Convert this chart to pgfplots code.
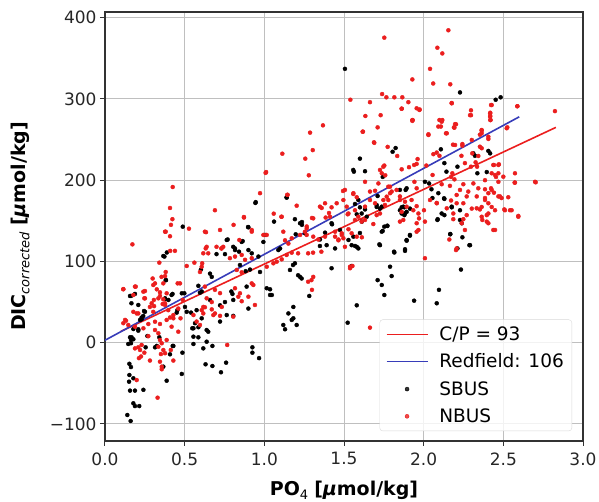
\documentclass[border=0pt]{standalone}
\usepackage{pgfplots}
\pgfplotsset{compat=1.18}
\usepackage{fontspec}
\setmainfont{DejaVu Sans}
\definecolor{myred}{RGB}{235,30,30}
\definecolor{myblue}{RGB}{55,60,185}
\definecolor{frame}{RGB}{50,50,50}
\pgfplotsset{
  redleg/.style={legend image code/.code={\draw[myred, line width=1.6pt] (0pt,0pt) -- (41pt,0pt); \path (50pt,0pt);}},
  blueleg/.style={legend image code/.code={\draw[myblue, line width=1.6pt] (0pt,0pt) -- (41pt,0pt); \path (50pt,0pt);}},
  blackdot/.style={legend image code/.code={\fill[black] (20.5pt,0pt) circle (2pt); \path (0pt,0pt) (50pt,0pt);}},
  reddot/.style={legend image code/.code={\fill[myred] (20.5pt,0pt) circle (2pt); \path (0pt,0pt) (50pt,0pt);}},
}
\begin{document}
\begin{tikzpicture}
\begin{axis}[
  name=ax,
  scale only axis, width=478pt, height=429pt,
  xmin=0, xmax=3, ymin=-121, ymax=407,
  xtick={0,0.5,1,1.5,2,2.5,3},
  xticklabels={0.0,0.5,1.0,1.5,2.0,2.5,3.0},
  ytick={-100,0,100,200,300,400},
  yticklabels={−100,0,100,200,300,400},
  tick label style={font=\fontsize{17}{19}\selectfont, text=black!85},
  xticklabel style={yshift=-3pt},
  tick align=outside, xtick pos=bottom, ytick pos=left,
  major tick length=5pt,
  every tick/.style={frame, line width=1pt},
  grid=major, grid style={gray!50, line width=1pt},
  axis line style={frame, line width=1.3pt},
  xlabel={\textbf{PO}\raisebox{-0.35ex}{\fontsize{13}{13}\selectfont 4} \textbf{[\textit{μ}mol/kg]}},
  ylabel={\textbf{DIC}\raisebox{-0.35ex}{\fontsize{13}{13}\selectfont\itshape corrected} \textbf{[\textit{μ}mol/kg]}},
  label style={font=\fontsize{19}{20}\selectfont},
  xlabel style={yshift=-9pt},
  ylabel style={yshift=13pt},
  legend cell align=left,
  legend style={at={(0.977,0.023)}, anchor=south east, draw=gray!30, rounded corners=3pt,
    fill=white, fill opacity=0.8, text opacity=1, font=\fontsize{18.5}{20}\selectfont,
    row sep=8pt, inner xsep=6pt, inner ysep=5pt},
]
\addplot[only marks, mark=*, mark size=2pt, black, forget plot] coordinates {
(2.228,308) (2.452,299) (2.483,302) (1.506,337)
(0.946,173) (1.140,178.5) (0.898,142.4) (1.061,149) (1.192,152) (1.236,148.5) (1.236,145) (1.425,145.7) (0.488,142.8)
(1.824,239.6) (1.805,235) (1.600,226.5) (1.558,212.6) (1.562,210.5) (1.632,211) (1.743,204) (2.108,238) (2.312,233) (2.322,230) (2.406,236) (2.130,221) (2.212,216.6) (2.143,210.5) (2.337,208.5) (2.396,210) (2.008,198) (2.034,196) (2.049,188.8) (1.851,188) (1.887,188) (1.711,180.5) (2.055,178) (2.130,177) (1.862,166.6) (1.879,166.6) (1.893,161) (1.914,165) (1.879,157) (2.176,166.6) (2.228,163) (2.088,152) (2.130,157) (1.753,142.8) (1.772,143.6) (1.632,164) (1.600,166.6) (1.580,158) (1.612,149) (1.705,167) (1.726,165)
(0.373,106) (0.388,111) (0.383,77) (0.157,57.5) (0.424,60) (0.377,53.8) (0.251,38) (0.230,31) (0.220,28) (0.178,16.8) (0.209,14.8) (0.167,6.6) (0.454,40) (0.513,38) (0.502,44) (0.540,37) (0.565,24) (0.548,17.7) (0.586,19) (0.638,15.6) (0.555,7.4) (0.586,6.6) (0.602,90) (0.659,85) (0.670,81) (0.607,63) (0.586,70) (0.659,52.6) (0.722,46) (0.753,50) (0.805,33) (0.700,109) (0.753,109) (0.770,127) (0.816,114) (0.841,112) (0.805,118) (0.858,124) (0.900,114) (0.921,110) (0.963,106) (0.847,95.6) (0.883,88) (0.910,90) (0.793,63) (0.800,60) (0.973,87) (0.994,124) (1.004,132.6) (1.088,114) (1.099,116) (1.161,89.5) (1.180,95.6) (1.192,97.7) (1.349,119) (1.391,120) (1.444,116) (1.036,65.7) (1.047,58.7) (1.212,83) (1.234,79) (1.422,91.6) (1.182,44) (1.182,30) (1.203,21.8) (1.130,16.5)
(1.600,135) (1.737,136.6) (1.569,119) (1.722,121) (1.816,111) (1.893,125.5) (1.914,131.7) (1.883,115) (1.789,93.5) (1.799,82) (1.711,77) (1.737,71) (1.753,58.7) (1.580,46) (1.940,51.7) (2.167,133.8) (2.243,129.7) (2.287,120) (2.212,116) (2.234,90) (2.096,65) (2.082,48.5) (1.523,24.6)
(1.282,57.5) (1.548,94.4) (1.814,112) (1.883,113)
(0.146,-1.6) (0.163,3.3) (0.255,-5.7) (0.314,-5.7) (0.366,-29.5) (0.408,-14.3) (0.429,-4) (0.486,-12.3) (0.482,-38.5) (0.387,-46.8) (0.153,-26) (0.163,-30) (0.153,-39.8) (0.151,-48) (0.178,-43.8) (0.157,-59) (0.188,-59) (0.241,-58) (0.178,-74.6) (0.188,-78) (0.215,-78) (0.140,-89) (0.161,-96.4) (0.555,-1.6) (0.617,-7) (0.638,1.2) (0.674,-4) (0.631,-26.6) (0.674,-28.7) (0.728,-36.4) (0.760,-24.6) (0.925,-5.7) (0.925,-12.3) (0.967,-19)
(0.163,57.5) (0.188,60) (0.166,48.5) (0.209,46.4) (0.245,39) (0.240,32.9) (0.230,28.8) (0.209,16.5) (0.178,4.2) (0.157,6.6) (0.163,-0.7) (0.266,8.2) (0.325,-4) (0.341,6.6) (0.366,106.7) (0.381,77) (0.377,54.6) (0.398,52.6) (0.418,58.7) (0.482,60.8) (0.450,37) (0.425,-4) (0.498,60.8) (0.596,61.5) (0.575,40) (0.607,30) (0.555,17.7) (0.648,13.5) (0.722,26) (0.764,34) (0.805,52.6) (0.889,69) (0.900,42) (1.015,67) (1.036,58.7) (1.119,21.8) (1.172,28) (1.151,36) (1.224,81)
(0.764,126.4) (0.816,116) (0.864,125) (0.944,172) (0.900,142) (1.140,179) (1.197,133.4)
(2.291,120) (2.167,133.4) (2.228,151) (2.239,147) (2.086,151) (2.113,159) (2.128,177.7) (2.176,167.4) (2.092,184) (1.893,126.4) (1.914,132.6) (1.726,120) (1.772,144) (1.743,137.5) (1.893,190) (1.872,167.4) (1.883,159) (1.862,159) (1.851,163) (1.705,169.5) (1.737,167.4) (1.590,175.6) (1.569,170.7) (1.611,159) (1.643,155) (1.422,147) (1.475,138.7) (1.528,126.4) (1.559,130.5) (1.548,120) (1.580,118) (1.590,116) (1.224,147) (1.255,134.6) (1.349,127) (1.381,135.4)
(2.417,233)
};
\addplot[only marks, mark=*, mark size=2pt, myred, forget plot] coordinates {
(1.753,375.4) (2.155,384.5) (2.086,363) (2.117,356) (2.04,337) (1.929,324) (2.06,319) (2.167,318) (1.739,306) (1.766,302) (1.816,302) (1.866,302) (1.904,296) (1.540,299) (1.663,296) (1.862,288) (1.975,287) (2.176,295) (2.423,292.5) (2.588,291) (2.824,285) (1.634,279) (1.730,280) (2.297,286) (2.297,280) (2.418,283) (2.418,279) (2.418,274) (1.929,274) (2.117,274)
(1.368,267.5) (1.287,258.5) (1.304,237) (1.113,232.6) (1.257,226.5) (1.279,206) (1.011,210) (0.425,191.6) (0.973,184) (1.146,182) (1.203,168.6) (0.408,165.8) (0.423,152) (0.414,145) (0.690,163) (0.872,154.7) (0.807,145) (1.059,158.8) (1.107,155) (1.299,153.5) (1.360,165.8) (1.422,166.6) (1.385,154) (1.406,159.6) (1.494,186.7) (0.527,140.3) (1.266,143)
(1.711,265) (1.619,259.7) (1.931,274) (2.099,274) (2.108,266) (2.030,256.5) (2.140,257.7) (2.197,269) (2.19,265) (1.690,246) (1.774,241) (1.834,229.8) (1.726,212.6) (1.753,218) (1.759,206) (1.908,216) (1.862,213.4) (1.94,218.7) (1.962,226) (1.956,220) (2.017,218) (2.061,232) (2.082,234) (2.099,230) (2.184,243.7) (2.243,244.5) (2.237,230) (2.353,256) (2.364,261) (2.406,250.7) (2.525,265) (2.259,221) (2.297,216.6) (2.326,222) (2.335,216.6) (2.441,218.7) (2.469,218.7) (2.469,208.5) (2.454,204) (2.573,208.5) (2.571,197) (2.703,197.4) (2.18,208.5) (2.172,204) (2.193,201) (2.056,206.4) (2.385,200) (1.942,198) (2.312,196) (2.249,195) (2.113,195) (2.165,193) (2.228,188) (2.280,186) (2.343,190) (2.385,188.8) (2.423,190) (2.441,184.6) (1.956,190) (1.778,192) (1.799,186) (1.663,186) (1.695,187) (1.506,188) (1.558,183) (1.580,179) (2.082,172) (2.172,175) (2.207,171.6) (2.333,180) (2.385,178) (2.406,171.6) (2.427,167) (2.469,180) (2.489,178) (2.531,179) (2.506,164) (2.552,163) (2.594,156) (2.302,165) (2.353,164) (2.249,152) (2.239,147) (2.368,151) (2.406,147) (2.186,152) (2.002,163) (1.971,153) (1.684,146) (1.590,155) (1.632,151) (1.569,163) (1.523,158) (1.757,169.5) (1.778,175.6) (1.851,175.6) (1.924,175.6) (1.956,168)
(0.172,121) (0.377,136.6) (0.408,131) (0.409,113) (0.439,113) (0.341,98.5) (0.381,87) (0.377,82) (0.299,79) (0.314,73) (0.193,69) (0.115,66) (0.178,58.7) (0.251,63.6) (0.247,54.6) (0.345,62) (0.335,54.6) (0.366,53.4) (0.377,46.4) (0.456,73) (0.293,48.5) (0.308,45) (0.199,36) (0.126,28) (0.115,24) (0.146,21.8) (0.314,25.8) (0.345,23) (0.387,28) (0.397,40) (0.429,34) (0.460,42) (0.408,31) (0.314,15.6) (0.335,11.6) (0.272,8) (0.607,40) (0.617,36) (0.670,41) (0.690,36) (0.722,33) (0.513,94.4) (0.561,98.5) (0.607,93.5) (0.596,87) (0.610,97.7) (0.627,69) (0.690,65) (0.722,61) (0.627,43.6) (0.670,50) (0.617,110) (0.648,110) (0.632,116) (0.700,118) (0.731,116) (0.742,118) (0.627,136.6) (0.722,138.7) (0.784,104) (0.816,106) (0.858,108) (0.879,102) (0.921,104) (0.921,138.7) (0.827,89.5) (0.858,86.6) (0.921,73) (0.931,71) (0.816,67) (0.858,51) (0.837,56.6) (0.900,56.6) (1.015,93.5) (1.057,97.7) (1.078,99.7) (1.109,102.6) (1.172,110.8) (1.140,108) (1.212,110) (1.275,110) (1.306,110.8) (1.358,112) (1.172,128.5) (1.224,132.6) (1.255,136.6) (1.307,130.5) (1.339,127) (1.381,130.5) (1.444,136.6) (1.465,126) (1.496,128.5) (1.275,75) (1.296,77) (1.307,81) (1.299,65)
(1.548,134.6) (1.580,130.5) (1.612,129.7) (1.538,93.5) (1.553,94.4) (1.956,136.6) (2.008,104) (2.161,127) (2.203,114) (2.448,138.7) (1.663,18.5) (1.538,91.6)
(0.188,-7) (0.209,-5.7) (0.230,-2.8) (0.220,-9) (0.247,-12.3) (0.226,-17) (0.213,-19) (0.282,-22) (0.345,3.3) (0.335,-5) (0.356,-0.7) (0.366,-9) (0.351,-14) (0.377,-13) (0.345,-23.4) (0.356,-29.5) (0.356,-32.7) (0.199,-46) (0.330,-67.7) (0.767,-2.8)
(0.115,65.7) (0.188,69) (0.241,62.8) (0.251,54.6) (0.178,38) (0.209,36) (0.282,44) (0.303,38) (0.132,27) (0.188,19.7) (0.241,17.7) (0.272,23) (0.303,71) (0.307,52.6) (0.355,81) (0.366,73) (0.325,65.7) (0.387,60.8) (0.345,57.5) (0.377,48.5) (0.362,47.6) (0.418,19.7) (0.429,30) (0.460,13.5) (0.474,30) (0.413,-9) (0.429,-22) (0.471,73) (0.488,52.6) (0.387,3.3) (0.555,34) (0.575,26) (0.596,21.8) (0.617,44) (0.638,54.6) (0.680,34) (0.733,44) (0.805,32) (0.847,60.8) (0.941,46.4)
(0.381,136.6) (0.634,136) (0.638,118) (0.872,154) (0.921,136.6) (0.843,126.4) (1.008,209) (0.994,132.6) (1.015,132.6) (1.109,155) (1.119,136.6) (1.130,126) (1.151,122) (1.144,182) (0.731,116)
(2.479,180) (2.573,197) (2.594,155) (2.510,163) (2.542,163) (2.437,138.7) (2.396,157) (2.364,167) (2.385,175.6) (2.406,184) (2.427,188) (2.448,163) (2.396,149) (2.406,159) (2.364,155) (2.333,165.4) (2.207,116) (2.259,138.7) (2.270,157) (2.186,159) (2.249,171.6) (2.207,181.8) (2.270,180) (2.008,149) (2.040,175.6) (2.082,171.6) (2.145,165.4) (1.956,147) (1.967,138.7) (1.935,163) (1.967,159) (1.862,161) (1.851,149) (1.872,151) (1.893,167.4) (1.851,180) (1.883,173.5) (1.830,188) (1.789,184) (1.695,171.6) (1.747,175.6) (1.768,179.7) (1.789,192) (1.726,159) (1.705,157) (1.632,167.4) (1.663,175.6) (1.517,167.4) (1.559,184) (1.496,175.6) (1.528,159) (1.569,151) (1.611,149) (1.528,139.6) (1.486,134.6) (1.506,118) (1.412,155) (1.307,153) (1.266,140.8) (1.349,167.4) (1.381,171.6) (1.454,171.6) (1.266,132.6) (1.444,130.5) (1.465,127) (1.486,132.6)
(1.632,198) (1.716,196) (1.747,216.6) (1.737,208.5) (1.956,288.5) (1.929,273) (1.862,288) (1.973,286.4) (2.030,255.6) (2.092,266) (2.113,272) (2.145,257.7) (2.193,264.6) (2.203,268.8) (2.176,294.6) (2.291,280) (2.427,292.5) (2.417,282) (2.417,278) (2.420,274) (2.364,261.8) (2.406,253.5) (2.364,257.7) (2.521,263.9) (2.588,291) (2.197,243.3) (2.243,242.5) (2.302,249.5) (2.353,241.2) (2.305,233) (2.343,229.8) (2.364,239.3) (2.437,218.7) (2.472,219.6) (2.427,208.5) (2.448,206.4) (2.469,198) (2.500,204.3) (2.699,198) (1.617,259.7) (1.688,246.6)
};
\addplot[myred, line width=1.6pt, redleg] coordinates {(0.10,14) (2.83,265)};
\addlegendentry{C/P = 93}
\addplot[myblue, line width=1.6pt, blueleg] coordinates {(0,3) (2.6,278)};
\addlegendentry{Redfield: 106}
\addlegendimage{blackdot}
\addlegendentry{SBUS}
\addlegendimage{reddot}
\addlegendentry{NBUS}
\end{axis}
\pgfresetboundingbox
\path ([shift={(-105pt,-61pt)}]ax.south west) rectangle ([shift={(16pt,12pt)}]ax.north east);
\end{tikzpicture}
\end{document}
